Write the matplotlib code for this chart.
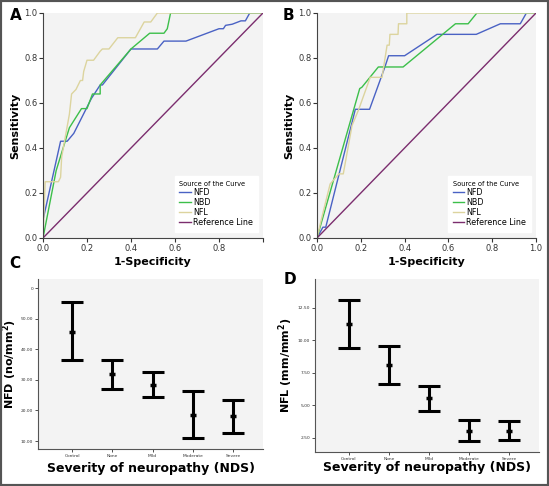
import numpy as np
import matplotlib
matplotlib.use("Agg")
import matplotlib.pyplot as plt
from matplotlib.patches import Rectangle

# ROC curve points (1-specificity, sensitivity)
a_nfd_x = [0, 0, 0.08, 0.11, 0.14, 0.22, 0.26, 0.27, 0.40, 0.52, 0.55, 0.65, 0.80, 0.82, 0.83, 0.86, 0.90, 0.92, 0.94, 1.0]
a_nfd_y = [0, 0.08, 0.43, 0.43, 0.465, 0.62, 0.68, 0.68, 0.84, 0.84, 0.875, 0.875, 0.93, 0.93, 0.945, 0.95, 0.965, 0.965, 1.0, 1.0]
a_nbd_x = [0, 0.06, 0.12, 0.175, 0.20, 0.225, 0.26, 0.26, 0.40, 0.485, 0.55, 0.565, 0.58, 1.0]
a_nbd_y = [0, 0.30, 0.49, 0.575, 0.575, 0.64, 0.64, 0.68, 0.84, 0.91, 0.91, 0.93, 1.0, 1.0]
a_nfl_x = [0, 0.01, 0.07, 0.08, 0.085, 0.12, 0.13, 0.15, 0.17, 0.18, 0.185, 0.20, 0.23, 0.26, 0.27, 0.30, 0.34, 0.42, 0.46, 0.49, 0.52, 1.0]
a_nfl_y = [0, 0.25, 0.25, 0.27, 0.36, 0.55, 0.64, 0.66, 0.70, 0.70, 0.74, 0.79, 0.79, 0.83, 0.84, 0.84, 0.89, 0.89, 0.96, 0.96, 1.0, 1.0]

b_nfd_x = [0, 0.027, 0.04, 0.175, 0.24, 0.31, 0.327, 0.40, 0.548, 0.727, 0.837, 0.928, 0.956, 1.0]
b_nfd_y = [0, 0.048, 0.048, 0.572, 0.572, 0.76, 0.81, 0.81, 0.905, 0.905, 0.952, 0.952, 1.0, 1.0]
b_nbd_x = [0, 0.195, 0.205, 0.28, 0.393, 0.632, 0.69, 0.73, 1.0]
b_nbd_y = [0, 0.664, 0.67, 0.76, 0.76, 0.952, 0.952, 1.0, 1.0]
b_nfl_x = [0, 0.023, 0.06, 0.10, 0.12, 0.16, 0.19, 0.243, 0.297, 0.32, 0.33, 0.333, 0.37, 0.372, 0.41, 0.41, 1.0]
b_nfl_y = [0, 0.095, 0.24, 0.285, 0.285, 0.50, 0.57, 0.714, 0.714, 0.857, 0.857, 0.905, 0.905, 0.952, 0.952, 1.0, 1.0]

# Error bar data
groups = ["Control", "None", "Mild", "Moderate", "Severe"]
nfd_mean = [45.8, 31.8, 28.4, 18.6, 18.1]
nfd_low = [36.4, 27.0, 24.5, 10.9, 12.6]
nfd_high = [55.3, 36.6, 32.5, 26.4, 23.3]
nfl_mean = [11.25, 8.1, 5.53, 3.04, 3.04]
nfl_low = [9.4, 6.63, 4.58, 2.22, 2.3]
nfl_high = [13.1, 9.53, 6.45, 3.88, 3.76]

nfd_ticks = [10, 20, 30, 40, 50, 60]
nfd_ticklabels = ["10.00", "20.00", "30.00", "40.00", "50.00", "0"]
nfl_ticks = [2.5, 5.0, 7.5, 10.0, 12.5]
nfl_ticklabels = ["2.50", "5.00", "7.50", "10.00", "12.50"]

bg = "#f3f3f3"
c_nfd = "#4a62c4"
c_nbd = "#3cbf4a"
c_nfl = "#dcd49e"
c_ref = "#7b2d6e"

fig = plt.figure(figsize=(5.49, 4.86), dpi=100)
fig.patches.append(Rectangle((0, 0), 1, 1, transform=fig.transFigure, fill=False,
                             edgecolor="#555555", linewidth=3))


def roc_panel(ax, data, show_last_label):
    ax.set_facecolor(bg)
    for (x, y), col, lab in zip(data, [c_nfd, c_nbd, c_nfl], ["NFD", "NBD", "NFL"]):
        ax.plot(x, y, color=col, lw=1.0, label=lab)
    ax.plot([0, 1], [0, 1], color=c_ref, lw=1.0, label="Reference Line")
    ax.set_xlim(0, 1)
    ax.set_ylim(0, 1)
    for s in ["top", "right"]:
        ax.spines[s].set_visible(False)
    for s in ["left", "bottom"]:
        ax.spines[s].set_color("#444444")
        ax.spines[s].set_linewidth(0.8)
    ax.set_xticks([0, 0.2, 0.4, 0.6, 0.8, 1.0])
    xl = ["0.0", "0.2", "0.4", "0.6", "0.8", "1.0" if show_last_label else ""]
    ax.set_xticklabels(xl)
    ax.set_yticks([0, 0.2, 0.4, 0.6, 0.8, 1.0])
    ax.set_yticklabels(["0.0", "0.2", "0.4", "0.6", "0.8", "1.0"])
    ax.tick_params(labelsize=6, length=3, width=0.8, pad=1, colors="#333333")
    ax.set_ylabel("Sensitivity", fontsize=8, fontweight="bold")
    ax.yaxis.set_label_coords(-0.105, 0.5)
    ax.set_xlabel("1-Specificity", fontsize=8, fontweight="bold")
    ax.xaxis.set_label_coords(0.5, -0.085)
    leg = ax.legend(loc="lower right", title="Source of the Curve", fontsize=5.8,
                    title_fontsize=4.8, frameon=True, fancybox=False, handlelength=1.4,
                    handletextpad=0.3, labelspacing=0.12, borderpad=0.6,
                    bbox_to_anchor=(0.995, 0.01))
    leg.get_frame().set_edgecolor("white")
    leg.get_frame().set_facecolor("white")
    leg.get_frame().set_alpha(1)
    leg._legend_box.align = "left"


axA = fig.add_axes([0.0783, 0.5103, 0.4007, 0.463])
roc_panel(axA, [(a_nfd_x, a_nfd_y), (a_nbd_x, a_nbd_y), (a_nfl_x, a_nfl_y)], False)
axB = fig.add_axes([0.5774, 0.5103, 0.399, 0.463])
roc_panel(axB, [(b_nfd_x, b_nfd_y), (b_nbd_x, b_nbd_y), (b_nfl_x, b_nfl_y)], True)


def err_panel(ax, mean, low, high, ticks, ticklabels, ylim, ylabel, ylab_x, xlab_y):
    ax.set_facecolor(bg)
    x = np.arange(len(groups))
    mean = np.array(mean)
    yerr = [mean - np.array(low), np.array(high) - mean]
    ax.errorbar(x, mean, yerr=yerr, fmt="none", ecolor="black", elinewidth=2.2,
                capsize=8, capthick=2.2)
    ax.plot(x, mean, linestyle="none", marker="_", color="black", ms=5, mew=2.5)
    ax.plot(x, mean, linestyle="none", marker="|", color="black", ms=3, mew=1)
    ax.set_xlim(-0.85, 4.75)
    ax.set_ylim(*ylim)
    ax.set_xticks(x)
    ax.set_xticklabels(groups)
    ax.set_yticks(ticks)
    ax.set_yticklabels(ticklabels)
    ax.tick_params(labelsize=3.2, length=2, width=0.6, pad=1.5, colors="#333333")
    for s in ["top", "right"]:
        ax.spines[s].set_visible(False)
    for s in ["left", "bottom"]:
        ax.spines[s].set_color("#555555")
        ax.spines[s].set_linewidth(0.8)
    ax.set_ylabel(ylabel, fontsize=8, fontweight="bold")
    ax.yaxis.set_label_coords(ylab_x, 0.5)
    ax.set_xlabel("Severity of neuropathy (NDS)", fontsize=9, fontweight="bold")
    ax.xaxis.set_label_coords(0.5, xlab_y)


axC = fig.add_axes([0.0692, 0.0761, 0.41, 0.35])
err_panel(axC, nfd_mean, nfd_low, nfd_high, nfd_ticks, nfd_ticklabels, (7.4, 63),
          "NFD (no/mm$^\\mathbf{2}$)", -0.085, -0.076)
axD = fig.add_axes([0.5738, 0.07, 0.408, 0.356])
err_panel(axD, nfl_mean, nfl_low, nfl_high, nfl_ticks, nfl_ticklabels, (1.4, 14.7),
          "NFL (mm/mm$^\\mathbf{2}$)", -0.089, -0.052)

for lab, x, y in [("A", 10, 15), ("B", 283, 15), ("C", 9, 263), ("D", 284, 279)]:
    fig.text(x / 549, 1 - y / 486, lab, fontsize=11, fontweight="bold", va="center", ha="left")

fig.savefig("out.png", dpi=100)
